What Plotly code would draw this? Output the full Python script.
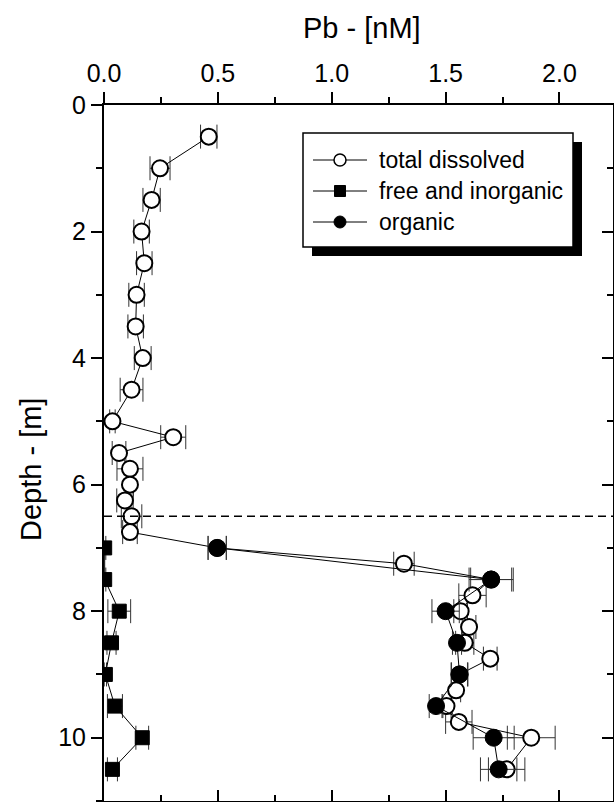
import plotly.graph_objects as go

# ---------------- data ----------------
depth_total = [0.5, 1.0, 1.5, 2.0, 2.5, 3.0, 3.5, 4.0, 4.5, 5.0, 5.25, 5.5, 5.75, 6.0,
               6.25, 6.5, 6.75, 7.0, 7.25, 7.5, 7.75, 8.0, 8.25, 8.5, 8.75, 9.0, 9.25,
               9.5, 9.75, 10.0, 10.5]
pb_total = [0.46, 0.246, 0.209, 0.165, 0.177, 0.143, 0.139, 0.17, 0.121, 0.037, 0.304,
            0.066, 0.114, 0.114, 0.092, 0.121, 0.114, 0.497, 1.317, 1.70, 1.618, 1.566,
            1.603, 1.584, 1.696, 1.561, 1.546, 1.504, 1.558, 1.876, 1.768]
err_total = [0.036, 0.044, 0.038, 0.034, 0.034, 0.034, 0.034, 0.037, 0.05, 0.012, 0.055,
             0.03, 0.057, 0.015, 0.036, 0.045, 0.032, 0.04, 0.045, 0.09, 0.06, 0.03,
             0.03, 0.04, 0.03, 0.035, 0.02, 0.02, 0.058, 0.105, 0.08]

depth_org = [7.0, 7.5, 8.0, 8.5, 9.0, 9.5, 10.0, 10.5]
pb_org = [0.497, 1.70, 1.50, 1.55, 1.561, 1.458, 1.711, 1.733]
err_org = [0.04, 0.097, 0.06, 0.02, 0.037, 0.03, 0.09, 0.08]

depth_free = [7.0, 7.5, 8.0, 8.5, 9.0, 9.5, 10.0, 10.5]
pb_free = [0.003, 0.003, 0.067, 0.033, 0.006, 0.048, 0.168, 0.037]
err_free = [0.005, 0.005, 0.05, 0.02, 0.005, 0.033, 0.028, 0.022]

boundary_depth = 6.5

x_ticks = [0.0, 0.5, 1.0, 1.5, 2.0]
x_ticktext = ["0.0", "0.5", "1.0", "1.5", "2.0"]
y_ticks = [0, 2, 4, 6, 8, 10]
y_ticktext = ["0", "2", "4", "6", "8", "10"]

legend_labels = ["total dissolved", "free and inorganic", "organic"]

X_RANGE = [0, 2.235]
Y_RANGE = [11, 0]

FONT = "Liberation Sans, Arial, Helvetica, sans-serif"

# ---------------- layout geometry (pixels) ----------------
W, H = 614, 802
ML, MR, MT, MB = 104, 1, 105, 1
PW = W - ML - MR
PH = H - MT - MB


def px(x):
    return (x - ML) / PW


def py(y):
    return (H - MB - y) / PH


err_style = dict(type="data", color="#333333", thickness=1, width=12)

fig = go.Figure()

fig.add_trace(go.Scatter(
    x=pb_total, y=depth_total, mode="lines+markers", name=legend_labels[0],
    line=dict(color="black", width=1),
    marker=dict(symbol="circle", size=16, color="white", line=dict(color="black", width=2)),
    error_x=dict(array=err_total, **err_style), showlegend=False))

fig.add_trace(go.Scatter(
    x=pb_org, y=depth_org, mode="lines+markers", name=legend_labels[2],
    line=dict(color="black", width=1),
    marker=dict(symbol="circle", size=17, color="black", line=dict(color="black", width=1)),
    error_x=dict(array=err_org, **err_style), showlegend=False))

fig.add_trace(go.Scatter(
    x=pb_free, y=depth_free, mode="lines+markers", name=legend_labels[1],
    line=dict(color="black", width=1),
    marker=dict(symbol="square", size=14, color="black", line=dict(color="black", width=1)),
    error_x=dict(array=err_free, **err_style), showlegend=False))

# dummy trace for mirrored axes (bottom / right, inward ticks)
fig.add_trace(go.Scatter(x=[None], y=[None], xaxis="x2", yaxis="y2",
                         showlegend=False, hoverinfo="skip"))

axis_common = dict(showgrid=False, zeroline=False, showline=True, linecolor="black",
                   linewidth=2, tickcolor="black", tickwidth=2, ticklen=11)

fig.update_layout(
    width=W, height=H,
    margin=dict(l=ML, r=MR, t=MT, b=MB),
    paper_bgcolor="white", plot_bgcolor="white",
    font=dict(family=FONT, color="black"),
    xaxis=dict(range=X_RANGE, side="top", ticks="outside", tickvals=x_ticks,
               ticktext=x_ticktext, tickfont=dict(size=25, family=FONT),
               minor=dict(dtick=0.25, tick0=0, ticks="outside", ticklen=6,
                          tickwidth=2, tickcolor="black"),
               **axis_common),
    yaxis=dict(range=Y_RANGE, ticks="outside", tickvals=y_ticks, ticktext=y_ticktext,
               tickfont=dict(size=25, family=FONT),
               minor=dict(dtick=1, tick0=0, ticks="outside", ticklen=6,
                          tickwidth=2, tickcolor="black"),
               **axis_common),
    xaxis2=dict(range=X_RANGE, overlaying="x", side="bottom", anchor="y", ticks="inside",
                tickvals=x_ticks, showticklabels=False,
                minor=dict(dtick=0.25, tick0=0, ticks="inside", ticklen=6,
                           tickwidth=2, tickcolor="black"),
                **axis_common),
    yaxis2=dict(range=Y_RANGE, overlaying="y", side="right", anchor="x", ticks="inside",
                tickvals=y_ticks, showticklabels=False,
                minor=dict(dtick=1, tick0=0, ticks="inside", ticklen=6,
                           tickwidth=2, tickcolor="black"),
                **axis_common),
    showlegend=False,
)

shapes = []
# boundary dashed line
shapes.append(dict(type="line", xref="paper", yref="y", x0=0, x1=1,
                   y0=boundary_depth, y1=boundary_depth,
                   line=dict(color="black", width=1.5, dash="8px,5px")))

# legend box with shadow
bx0, by0, bx1, by1 = 303, 133, 573, 247
sh = 9
shapes.append(dict(type="rect", xref="paper", yref="paper",
                   x0=px(bx0 + sh), x1=px(bx1 + sh), y0=py(by0 + sh), y1=py(by1 + sh),
                   fillcolor="black", line=dict(color="black", width=0)))
shapes.append(dict(type="rect", xref="paper", yref="paper",
                   x0=px(bx0), x1=px(bx1), y0=py(by0), y1=py(by1),
                   fillcolor="white", line=dict(color="black", width=1.5)))

row_y = [160, 191, 222]
lx0, lx1, lxc = 313, 367, 340
ms = 6
for i, yy in enumerate(row_y):
    shapes.append(dict(type="line", xref="paper", yref="paper",
                       x0=px(lx0), x1=px(lx1), y0=py(yy), y1=py(yy),
                       line=dict(color="black", width=1)))
    if i == 0:
        shapes.append(dict(type="circle", xref="paper", yref="paper",
                           x0=px(lxc - ms), x1=px(lxc + ms), y0=py(yy - ms), y1=py(yy + ms),
                           fillcolor="white", line=dict(color="black", width=1.5)))
    elif i == 1:
        shapes.append(dict(type="rect", xref="paper", yref="paper",
                           x0=px(lxc - 5.5), x1=px(lxc + 5.5), y0=py(yy - 5.5), y1=py(yy + 5.5),
                           fillcolor="black", line=dict(color="black", width=1)))
    else:
        shapes.append(dict(type="circle", xref="paper", yref="paper",
                           x0=px(lxc - ms), x1=px(lxc + ms), y0=py(yy - ms), y1=py(yy + ms),
                           fillcolor="black", line=dict(color="black", width=1)))

fig.update_layout(shapes=shapes)

annotations = []
for lab, yy in zip(legend_labels, row_y):
    annotations.append(dict(text=lab, xref="paper", yref="paper", x=px(377), y=py(yy),
                            xanchor="left", yanchor="middle", showarrow=False,
                            font=dict(size=23, family=FONT, color="black")))

annotations.append(dict(text="Pb - [nM]", xref="paper", yref="paper", x=px(362), y=py(28),
                        xanchor="center", yanchor="middle", showarrow=False,
                        font=dict(size=29, family=FONT, color="black")))
annotations.append(dict(text="Depth - [m]", xref="paper", yref="paper", x=px(31), y=py(470),
                        xanchor="center", yanchor="middle", showarrow=False, textangle=-90,
                        font=dict(size=29, family=FONT, color="black")))
fig.update_layout(annotations=annotations)

fig.write_html("out.html")
